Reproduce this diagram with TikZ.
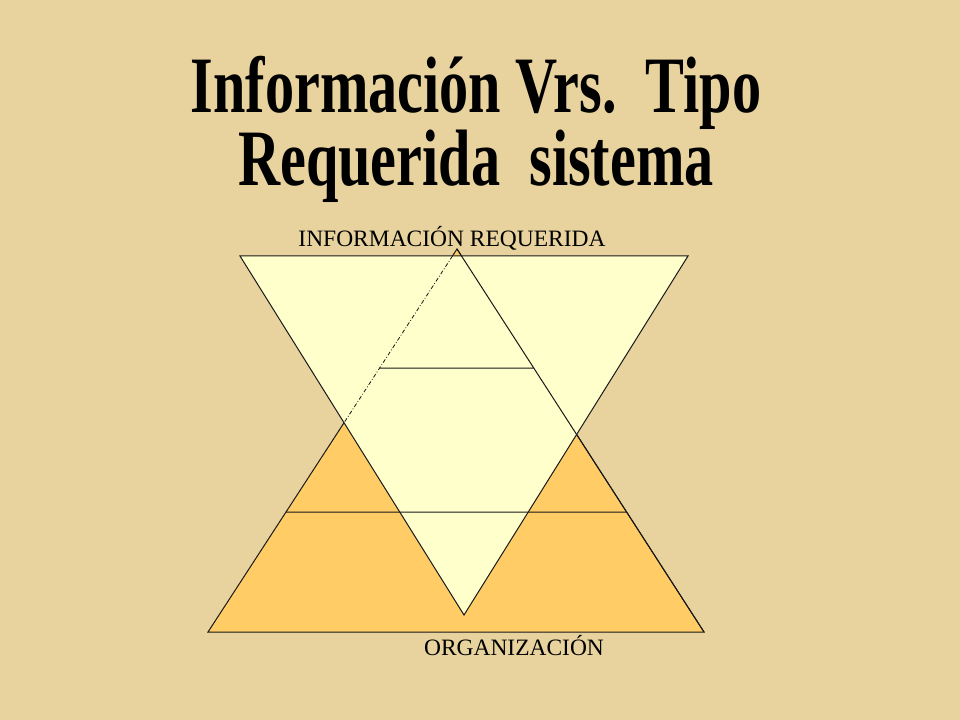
\documentclass[tikz,border=0pt]{standalone}
\usepackage{fontspec}
\setmainfont{Liberation Serif}
\usepackage{xcolor}
\usepackage{tikz}
\usetikzlibrary{calc}
\definecolor{papiro}{RGB}{232,211,158}
\definecolor{crema}{RGB}{255,255,204}
\definecolor{naranja}{RGB}{255,204,102}
\tikzset{
x=0.75pt, y=-0.75pt, % one unit is one pixel of the slide
linea/.style={draw=black!90, line width=0.75pt}, % sets the outline of every piece
piramide/.style={linea, fill=naranja}, % the upright pyramid (organizacion)
embudo/.style={linea, fill=crema}, % the inverted triangle (informacion)
oculta/.style={draw=black!90, line width=0.6pt, dash pattern=on 3pt off 1.5pt on 0.6pt off 1.5pt}, % hidden edge
titulo/.style={anchor=base, inner sep=0pt, align=center, font=\fontsize{60}{49.5}\selectfont\bfseries}, % slide title
rotulo/.style={anchor=base, inner sep=0pt, font=\fontsize{17.6}{20}\selectfont}, % small labels
}

\begin{document}
\begin{tikzpicture}
        \useasboundingbox (0,0) rectangle (960,720);
        % background of the slide
        \fill[papiro] (0,0) rectangle (960,720);

        \coordinate (cima) at (457,249);
        \coordinate (baseI) at (208,632);
        \coordinate (baseD) at (704,632);
        \coordinate (supI) at (240,256);
        \coordinate (supD) at (688,256);
        \coordinate (punta) at (464,615);

        \coordinate (n1I) at ($(cima)!0.311!(baseI)$);
        \coordinate (n1D) at ($(cima)!0.311!(baseD)$);
        \coordinate (n2I) at ($(cima)!0.687!(baseI)$);
        \coordinate (n2D) at ($(cima)!0.687!(baseD)$);
        \coordinate (cruce) at (intersection of cima--baseI and supI--punta);
        \coordinate (entrada) at (intersection of cima--baseI and supI--supD);

        \draw[piramide] (cima) -- (baseD) -- (baseI) -- cycle;
        \draw[embudo] (supI) -- (supD) -- (punta) -- cycle;

        \draw[linea] (cima) -- (baseD)
                     (n1I) -- (n1D)
                     (n2I) -- (n2D);
        \draw[oculta] (entrada) -- (cruce);

        \node[titulo] (titulo) at (476,186) {\scalebox{0.728}[1]{Información Vrs.~~Tipo}\\
                                             \scalebox{0.728}[1]{Requerida~~sistema}};
        \node[rotulo] (info) at (452,247) {INFORMACIÓN REQUERIDA};
        \node[rotulo] (org) at (514,655) {ORGANIZACIÓN};
\end{tikzpicture}
\end{document}
